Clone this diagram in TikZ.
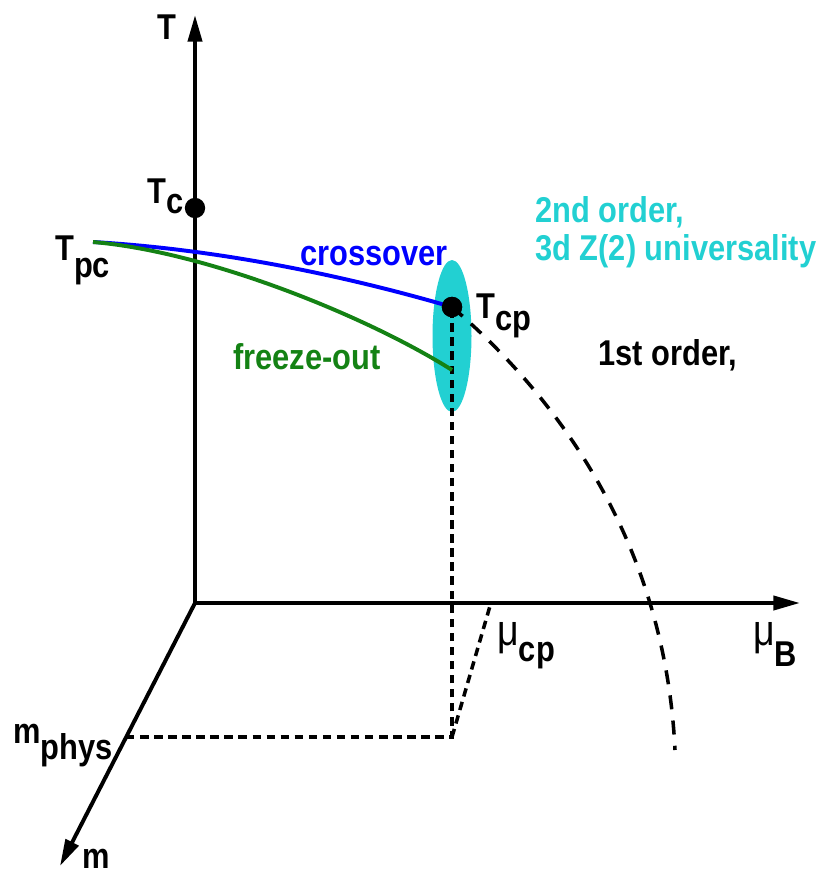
\documentclass[tikz,border=0pt]{standalone}
\usepackage{fontspec}
\setmainfont{Liberation Sans}[FakeStretch=0.86]
\usetikzlibrary{arrows.meta}
\definecolor{zcyan}{RGB}{34,208,210}
\definecolor{fogreen}{RGB}{20,130,20}
\newcommand{\lsub}[3]{#1\raisebox{-#3}{#2}}
\newcommand{\mug}{{\mdseries\fontsize{31}{31}\selectfont μ}}

\begin{document}
\begin{tikzpicture}[x=0.025cm,y=-0.025cm,
  axis/.style={line width=2.8pt,-{Triangle[length=19pt,width=10pt]}},
  lbl/.style={font=\fontsize{25.5}{28}\selectfont\bfseries,inner sep=0pt,anchor=base west},
  guide/.style={line width=2.5pt,dash pattern=on 6pt off 4pt},
  firstorder/.style={line width=2.5pt,dash pattern=on 10pt off 8pt},
  dot/.style={circle,fill=black,inner sep=0pt,minimum size=14.5pt}]
  \useasboundingbox (0,0) rectangle (816,876);
  % the second order region
  \fill[zcyan] (452,336) ellipse [x radius=19.5, y radius=76];
  % axes
  \coordinate (O) at (195,603);
  \coordinate (Ttop) at (195,15);
  \coordinate (muend) at (800,603);
  \coordinate (mend) at (60,866);
  \draw[axis] (O) -- (Ttop);
  \draw[axis] (O) -- (muend);
  \draw[axis] (O) -- (mend);
  % projections of the critical point
  \coordinate (mphys) at (126,737);
  \coordinate (corner) at (452,737);
  \coordinate (mucp) at (490,606);
  \coordinate (Tpc0) at (93,242);
  \coordinate (fo) at (452,370);
  \node[dot] (Tc) at (195,208) {};
  \node[dot] (Tcp) at (452,307) {};
  \draw[guide] (mphys) -- (corner) -- (Tcp.center);
  \draw[guide] (corner) -- (mucp);
  % lines
  \draw[firstorder] (Tcp.center) .. controls (555,395) and (665,540) .. (675,750);
  \draw[blue,line width=2.8pt] (Tpc0) .. controls (230,250) and (360,280) .. (Tcp.center);
  \draw[fogreen,line width=2.8pt] (Tpc0) .. controls (210,252) and (370,318) .. (fo);
  \node[dot] at (Tcp) {};
  % labels
  \node[lbl] (lT) at (157,39) {T};
  \node[lbl] (lTc) at (147,203) {\lsub{T}{c}{0.3em}};
  \node[lbl] (lTpc) at (55,260) {\lsub{T}{pc}{0.5em}};
  \node[lbl] (lTcp) at (476,318) {\lsub{T}{cp}{0.35em}};
  \node[lbl,blue] (lcross) at (300,265) {crossover};
  \node[lbl,fogreen] (lfreeze) at (233,369) {freeze-out};
  \node[lbl,zcyan] (l2nd) at (535,222) {2nd order,};
  \node[lbl,zcyan] (luniv) at (535,260) {3d Z(2) universality};
  \node[lbl] (l1st) at (598,365) {1st order,};
  \node[lbl] (lmucp) at (497,645) {\lsub{\mug}{cp}{0.45em}};
  \node[lbl] (lmuB) at (753,645) {\lsub{\mug}{B}{0.6em}};
  \node[lbl] (lmphys) at (13,743) {\lsub{m}{phys}{0.45em}};
  \node[lbl] (lm) at (82,868) {m};
\end{tikzpicture}
\end{document}
